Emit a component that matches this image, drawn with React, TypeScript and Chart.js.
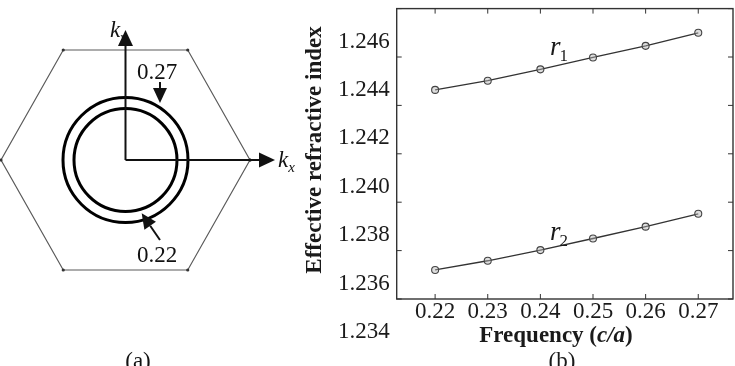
import React, { useEffect, useRef } from "react";
import { Chart, registerables } from "chart.js";
Chart.register(...registerables);

// ---------- Panel (b) data ----------
const frequencies = [0.22, 0.23, 0.24, 0.25, 0.26, 0.27];
const r1Index = [1.24464, 1.24502, 1.24549, 1.24598, 1.24646, 1.247];
const r2Index = [1.2372, 1.23758, 1.23802, 1.2385, 1.23899, 1.23952];
const xTickValues = [0.22, 0.23, 0.24, 0.25, 0.26, 0.27];
const yTickValues = [1.236, 1.238, 1.24, 1.242, 1.244, 1.246, 1.248];
const yLabelValues = [1.234, 1.236, 1.238, 1.24, 1.242, 1.244, 1.246];
const seriesNames = [
  { base: "r", sub: "1", x: 0.24183, y: 1.24608 },
  { base: "r", sub: "2", x: 0.24183, y: 1.23844 },
];

// ---------- Panel (a) data (k-space, hexagon circumradius = 1) ----------
const hexagonVertices = [
  [1, 0], [0.5, 0.866], [-0.5, 0.866], [-1, 0], [-0.5, -0.866], [0.5, -0.866], [1, 0],
];
const contourCenters = [[0, 0]];
const axisArrows = [
  { from: [0, 0], to: [0, 1.0236] },
  { from: [0, 0], to: [1.2008, 0] },
];
const contourArrows = [
  { from: [0.277, 0.614], to: [0.277, 0.449] },
  { from: [0.277, -0.63], to: [0.13, -0.42] },
];
const contourLabels = [
  { text: "0.27", x: 0.254, y: 0.638 },
  { text: "0.22", x: 0.254, y: -0.803 },
];
const axisLabels = [
  { base: "k", sub: "y", x: -0.1245, y: 0.969 },
  { base: "k", sub: "x", x: 1.225, y: -0.055 },
];

const FONT = '"Liberation Serif", "Times New Roman", serif';

function drawArrow(ctx: CanvasRenderingContext2D, x0: number, y0: number, x1: number, y1: number, headLen: number, headW: number, lw: number) {
  const ang = Math.atan2(y1 - y0, x1 - x0);
  const bx = x1 - headLen * Math.cos(ang);
  const by = y1 - headLen * Math.sin(ang);
  ctx.beginPath();
  ctx.moveTo(x0, y0);
  ctx.lineTo(bx, by);
  ctx.lineWidth = lw;
  ctx.stroke();
  ctx.beginPath();
  ctx.moveTo(x1, y1);
  ctx.lineTo(bx + (headW / 2) * Math.sin(ang), by - (headW / 2) * Math.cos(ang));
  ctx.lineTo(bx - (headW / 2) * Math.sin(ang), by + (headW / 2) * Math.cos(ang));
  ctx.closePath();
  ctx.fill();
}

const panelAPlugin = {
  id: "panelA",
  afterDatasetsDraw(chart: any) {
    const ctx: CanvasRenderingContext2D = chart.ctx;
    const xs = chart.scales.x;
    const ys = chart.scales.y;
    const px = (v: number) => xs.getPixelForValue(v);
    const py = (v: number) => ys.getPixelForValue(v);
    ctx.save();
    ctx.fillStyle = "#111";
    ctx.strokeStyle = "#111";
    axisLabels.forEach((l) => {
      ctx.font = `italic 23px ${FONT}`;
      ctx.textAlign = "left";
      ctx.textBaseline = "alphabetic";
      const x = px(l.x);
      const y = py(l.y);
      ctx.fillText(l.base, x, y);
      const w = ctx.measureText(l.base).width;
      ctx.font = `italic 15px ${FONT}`;
      ctx.fillText(l.sub, x + w, y + 5);
    });
    contourLabels.forEach((l) => {
      ctx.font = `23px ${FONT}`;
      ctx.textAlign = "center";
      ctx.textBaseline = "alphabetic";
      ctx.fillText(l.text, px(l.x), py(l.y));
    });
    axisArrows.forEach((a) => {
      drawArrow(ctx, px(a.from[0]), py(a.from[1]), px(a.to[0]), py(a.to[1]), 16, 15, 2);
    });
    contourArrows.forEach((a) => {
      drawArrow(ctx, px(a.from[0]), py(a.from[1]), px(a.to[0]), py(a.to[1]), 15, 14, 2);
    });
    ctx.font = `23px ${FONT}`;
    ctx.textAlign = "center";
    ctx.textBaseline = "middle";
    ctx.fillText("(a)", 138, 362);
    ctx.restore();
  },
};

const panelBPlugin = {
  id: "panelB",
  afterDraw(chart: any) {
    const ctx: CanvasRenderingContext2D = chart.ctx;
    const { left, right, top, bottom } = chart.chartArea;
    const xs = chart.scales.x;
    const ys = chart.scales.y;
    ctx.save();
    ctx.strokeStyle = "#333";
    ctx.fillStyle = "#1a1a1a";
    ctx.lineWidth = 1.4;
    ctx.strokeRect(left, top, right - left, bottom - top);
    ctx.lineWidth = 1;
    const tl = 5;
    xTickValues.forEach((v) => {
      const x = xs.getPixelForValue(v);
      ctx.beginPath();
      ctx.moveTo(x, bottom);
      ctx.lineTo(x, bottom - tl);
      ctx.moveTo(x, top);
      ctx.lineTo(x, top + tl);
      ctx.stroke();
    });
    yTickValues.forEach((v) => {
      const y = ys.getPixelForValue(v);
      ctx.beginPath();
      ctx.moveTo(left, y);
      ctx.lineTo(left + tl, y);
      ctx.moveTo(right, y);
      ctx.lineTo(right - tl, y);
      ctx.stroke();
    });
    ctx.font = `23px ${FONT}`;
    ctx.textAlign = "center";
    ctx.textBaseline = "middle";
    xTickValues.forEach((v) => {
      ctx.fillText(v.toFixed(2), xs.getPixelForValue(v), 312);
    });
    ctx.textAlign = "right";
    yLabelValues.forEach((v) => {
      ctx.fillText(v.toFixed(3), left - 7, ys.getPixelForValue(v) - 15.5);
    });
    const parts = [
      { t: "Frequency (", f: `bold 23px ${FONT}` },
      { t: "c/a", f: `italic bold 23px ${FONT}` },
      { t: ")", f: `bold 23px ${FONT}` },
    ];
    let total = 0;
    parts.forEach((p) => {
      ctx.font = p.f;
      total += ctx.measureText(p.t).width;
    });
    let cx = 256 - total / 2;
    ctx.textAlign = "left";
    parts.forEach((p) => {
      ctx.font = p.f;
      ctx.fillText(p.t, cx, 336);
      cx += ctx.measureText(p.t).width;
    });
    ctx.save();
    ctx.translate(21, 150);
    ctx.rotate(-Math.PI / 2);
    ctx.font = `bold 23px ${FONT}`;
    ctx.textAlign = "center";
    ctx.textBaseline = "alphabetic";
    ctx.fillText("Effective refractive index", 0, 0);
    ctx.restore();
    seriesNames.forEach((s) => {
      const x = xs.getPixelForValue(s.x);
      const y = ys.getPixelForValue(s.y);
      ctx.textAlign = "left";
      ctx.textBaseline = "alphabetic";
      ctx.font = `italic 27px ${FONT}`;
      ctx.fillText(s.base, x, y);
      const w = ctx.measureText(s.base).width;
      ctx.font = `17px ${FONT}`;
      ctx.fillText(s.sub, x + w - 1, y + 6);
    });
    ctx.font = `23px ${FONT}`;
    ctx.textAlign = "center";
    ctx.textBaseline = "middle";
    ctx.fillText("(b)", 262, 362);
    ctx.restore();
  },
};

export default function App() {
  const refA = useRef<HTMLCanvasElement>(null);
  const refB = useRef<HTMLCanvasElement>(null);

  useEffect(() => {
    const chartA = new Chart(refA.current as HTMLCanvasElement, {
      type: "scatter",
      data: {
        datasets: [
          {
            label: "Brillouin zone",
            data: hexagonVertices.map(([x, y]) => ({ x, y })),
            showLine: true,
            borderColor: "#5a5a5a",
            borderWidth: 1.2,
            pointRadius: 1.6,
            pointBackgroundColor: "#333",
            pointBorderWidth: 0,
            tension: 0,
          },
          {
            label: "0.27 contour",
            data: contourCenters.map(([x, y]) => ({ x, y })),
            showLine: false,
            pointRadius: 62.5,
            pointBorderWidth: 3,
            pointBorderColor: "#000",
            pointBackgroundColor: "rgba(0,0,0,0)",
          },
          {
            label: "0.22 contour",
            data: contourCenters.map(([x, y]) => ({ x, y })),
            showLine: false,
            pointRadius: 51.5,
            pointBorderWidth: 3,
            pointBorderColor: "#000",
            pointBackgroundColor: "rgba(0,0,0,0)",
          },
        ],
      },
      options: {
        animation: false,
        responsive: false,
        devicePixelRatio: 1,
        layout: { padding: 0, autoPadding: false },
        plugins: { legend: { display: false }, tooltip: { enabled: false } },
        scales: {
          x: { type: "linear", display: false, min: -1.008, max: 1.4819 },
          y: { type: "linear", display: false, min: -1.622, max: 1.2598 },
        },
      },
      plugins: [panelAPlugin],
    } as any);

    const chartB = new Chart(refB.current as HTMLCanvasElement, {
      type: "scatter",
      data: {
        datasets: [
          {
            label: "r1",
            data: frequencies.map((f, i) => ({ x: f, y: r1Index[i] })),
            showLine: true,
            borderColor: "#333",
            borderWidth: 1.3,
            pointRadius: 3.5,
            pointBorderWidth: 1.1,
            pointBorderColor: "#444",
            pointBackgroundColor: "rgba(180,180,180,0.45)",
          },
          {
            label: "r2",
            data: frequencies.map((f, i) => ({ x: f, y: r2Index[i] })),
            showLine: true,
            borderColor: "#333",
            borderWidth: 1.3,
            pointRadius: 3.5,
            pointBorderWidth: 1.1,
            pointBorderColor: "#444",
            pointBackgroundColor: "rgba(180,180,180,0.45)",
          },
        ],
      },
      options: {
        animation: false,
        responsive: false,
        devicePixelRatio: 1,
        layout: { padding: { left: 96.7, right: 2, top: 8.6, bottom: 67 }, autoPadding: false },
        plugins: { legend: { display: false }, tooltip: { enabled: false } },
        scales: {
          x: { type: "linear", display: false, min: 0.2127, max: 0.2766 },
          y: { type: "linear", display: false, min: 1.236, max: 1.248 },
        },
      },
      plugins: [panelBPlugin],
    } as any);

    return () => {
      chartA.destroy();
      chartB.destroy();
    };
  }, []);

  return (
    <div style={{ position: "absolute", left: 0, top: 0, width: 735, height: 366, background: "#fff", overflow: "hidden" }}>
      <canvas ref={refA} width={310} height={366} style={{ position: "absolute", left: 0, top: 0, width: 310, height: 366 }} />
      <canvas ref={refB} width={435} height={366} style={{ position: "absolute", left: 300, top: 0, width: 435, height: 366 }} />
    </div>
  );
}
